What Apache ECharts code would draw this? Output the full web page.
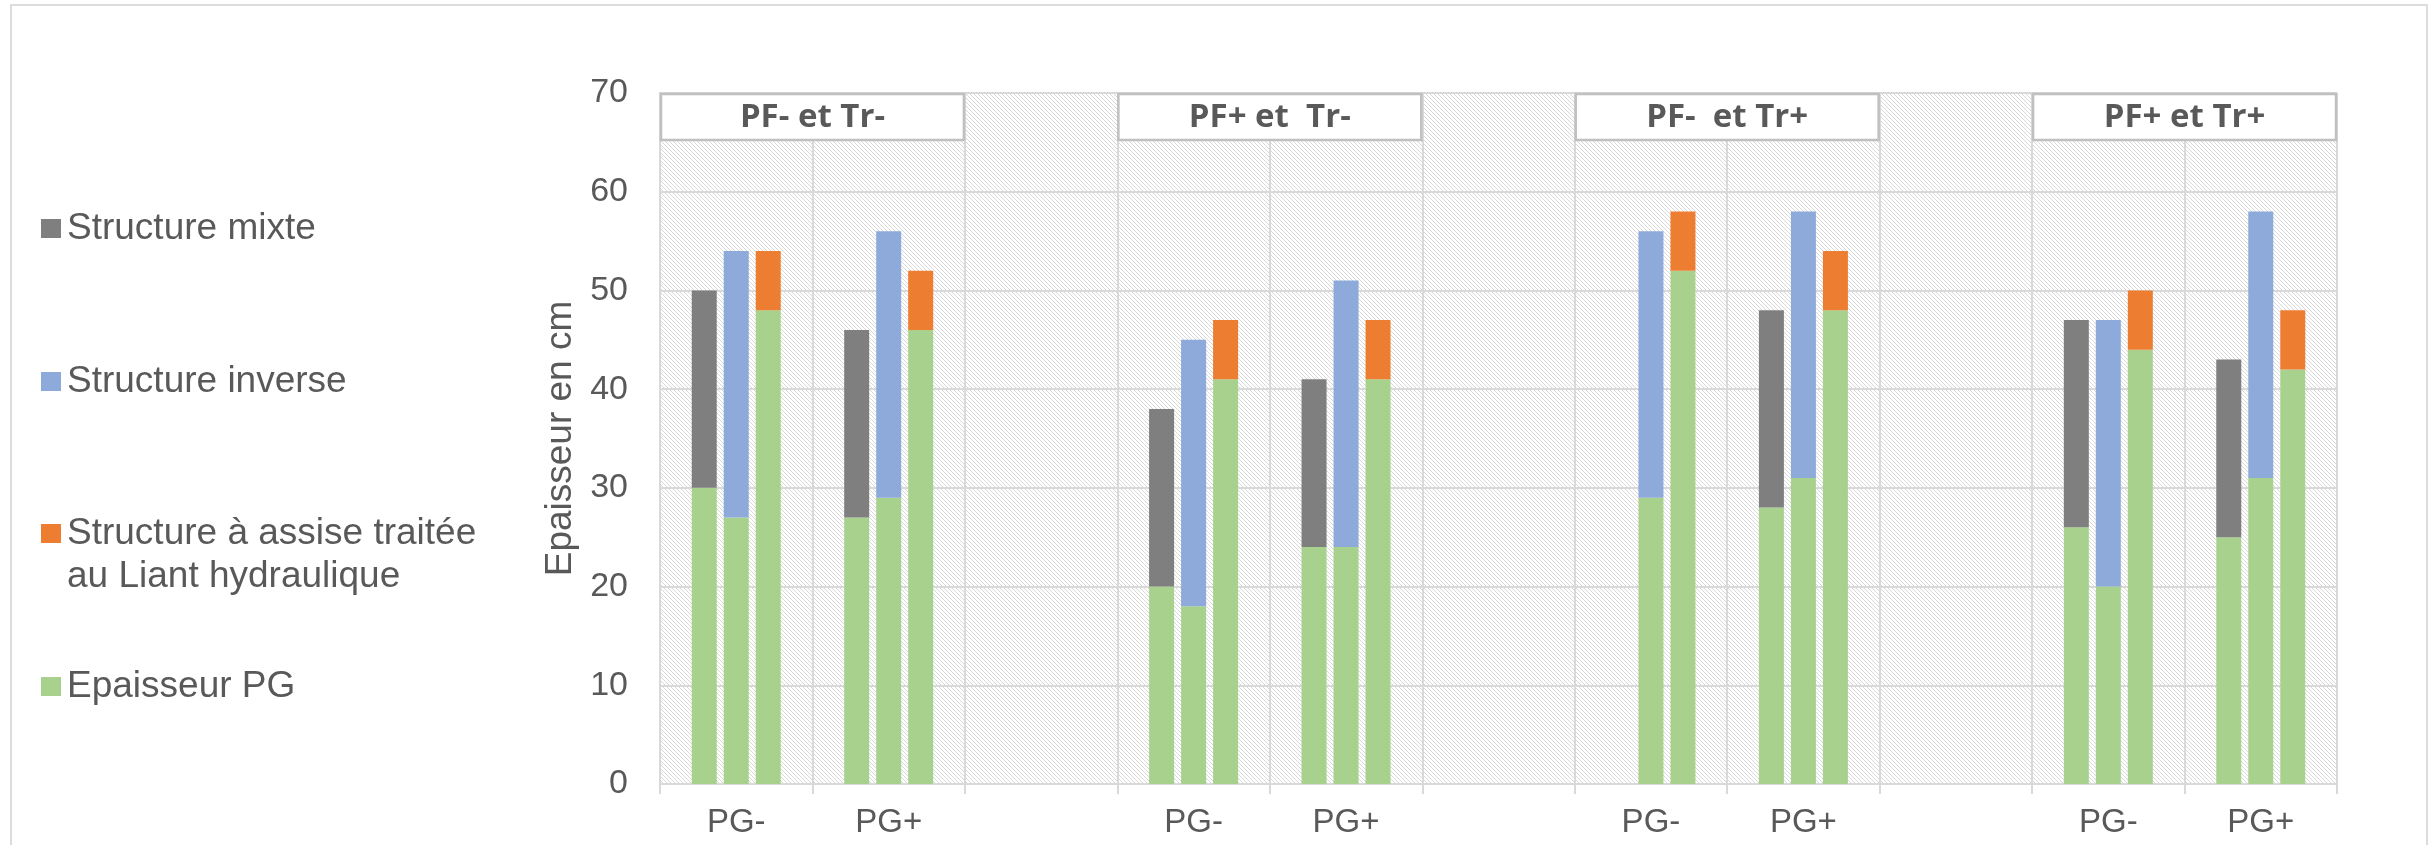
<!DOCTYPE html>
<html>
<head>
<meta charset="utf-8">
<script src="https://cdn.jsdelivr.net/npm/echarts@6/dist/echarts.min.js"></script>
<style>
  html, body { margin: 0; padding: 0; background: #fff; overflow: hidden; }
  #chart { width: 2435px; height: 845px; }
  #frame { position: absolute; left: 10px; top: 4px; width: 2418px; height: 900px;
           border: 2px solid #dcdcdc; box-sizing: border-box; pointer-events: none; }
</style>
</head>
<body>
<div id="chart"></div>
<div id="frame"></div>
<script>
// Categories: PG- / PG+ for each PF/Tr case, with an empty slot between cases
const categories = ['PG-', 'PG+', '', 'PG-', 'PG+', '', 'PG-', 'PG+', '', 'PG-', 'PG+'];

// Case headers and the first category index each one covers (two categories each)
const groupLabels = ['PF- et Tr-', 'PF+ et  Tr-', 'PF-  et Tr+', 'PF+ et Tr+'];
const groupStart = [0, 3, 6, 9];

// Epaisseur PG under each structure (cm)
const pgMixte   = [30, 27, null, 20, 24, null, null, 28, null, 26, 25];
const pgInverse = [27, 29, null, 18, 24, null, 29,   31, null, 20, 31];
const pgLiant   = [48, 46, null, 41, 41, null, 52,   48, null, 44, 42];

// Structure thickness stacked on top of the PG (cm)
const mixte   = [20, 19, null, 18, 17, null, null, 20, null, 21, 18];
const inverse = [27, 27, null, 27, 27, null, 27,   27, null, 27, 27];
const liant   = [6,  6,  null, 6,  6,  null, 6,    6,  null, 6,  6];

const yTicks = { min: 0, max: 70, interval: 10 };

const COLORS = {
  mixte: '#7f7f7f',
  inverse: '#8eaadb',
  liant: '#ed7d31',
  pg: '#a9d18e'
};
const TEXT = '#595959';
const GRID_LINE = '#d9d9d9';
const FONT = '"Liberation Sans", Arial, sans-serif';

// Light downward-diagonal hatch used as plot background
function hatchTile() {
  const c = document.createElement('canvas');
  c.width = 4; c.height = 4;
  const g = c.getContext('2d');
  g.fillStyle = '#ffffff';
  g.fillRect(0, 0, 4, 4);
  g.fillStyle = '#d8d8d8';
  for (let i = 0; i < 4; i++) g.fillRect(i, i, 1, 1);
  return c;
}

const chart = echarts.init(document.getElementById('chart'), null, { renderer: 'canvas' });

function barSeries(name, stack, data, color) {
  return {
    type: 'bar', name: name, stack: stack, data: data,
    barWidth: 25, barGap: '28%',
    itemStyle: { color: color },
    emphasis: { disabled: true }
  };
}

const LEGEND_LINE = 43;
const legendText = { color: TEXT, fontSize: 37, lineHeight: LEGEND_LINE, fontFamily: FONT, padding: [0, 0, 0, 1] };
function legendAt(name, top) {
  return {
    data: [name], left: 41, top: top, padding: 0,
    orient: 'vertical', icon: 'rect', itemWidth: 20, itemHeight: 19,
    selectedMode: false,
    textStyle: Object.assign({}, legendText)
  };
}

const option = {
  animation: false,
  backgroundColor: '#ffffff',
  grid: {
    left: 660, right: 98, top: 93, bottom: 61,
    show: true, borderWidth: 0,
    backgroundColor: { image: hatchTile(), repeat: 'repeat' }
  },
  legend: [
    legendAt('Structure mixte', 207),
    legendAt('Structure inverse', 360),
    // leading blank line keeps the marker level with the first text line
    Object.assign(legendAt('Structure à assise traitée au Liant hydraulique', 469), {
      formatter: () => '\nStructure à assise traitée\nau Liant hydraulique'
    }),
    legendAt('Epaisseur PG', 665)
  ],
  xAxis: {
    type: 'category', data: categories, boundaryGap: true,
    axisLine: { show: true, lineStyle: { color: GRID_LINE, width: 2 } },
    axisTick: { show: true, interval: 0, length: 10, lineStyle: { color: GRID_LINE, width: 2 } },
    axisLabel: { interval: 0, color: TEXT, fontSize: 33, fontFamily: FONT, margin: 22 },
    splitLine: { show: true, interval: 0, lineStyle: { color: GRID_LINE, width: 2 } }
  },
  yAxis: {
    type: 'value', min: yTicks.min, max: yTicks.max, interval: yTicks.interval,
    name: 'Epaisseur en cm', nameLocation: 'middle', nameGap: 78,
    nameTextStyle: { color: TEXT, fontSize: 37, fontFamily: FONT },
    axisLine: { show: true, lineStyle: { color: GRID_LINE, width: 2 } },
    axisTick: { show: false },
    axisLabel: { color: TEXT, fontSize: 34, fontFamily: FONT, margin: 32 },
    splitLine: { show: true, lineStyle: { color: GRID_LINE, width: 2 } }
  },
  series: [
    barSeries('Epaisseur PG', 'mixte', pgMixte, COLORS.pg),
    barSeries('Structure mixte', 'mixte', mixte, COLORS.mixte),
    barSeries('Epaisseur PG', 'inverse', pgInverse, COLORS.pg),
    barSeries('Structure inverse', 'inverse', inverse, COLORS.inverse),
    barSeries('Epaisseur PG', 'liant', pgLiant, COLORS.pg),
    barSeries('Structure à assise traitée au Liant hydraulique', 'liant', liant, COLORS.liant),
    {
      // Case header boxes spanning two categories at the top of the plot
      type: 'custom', name: 'cas', silent: true, z: 5,
      data: groupStart.map(s => [s, yTicks.max]),
      renderItem: function (params, api) {
        const bw = api.size([1, 0])[0];
        const p = api.coord([api.value(0), api.value(1)]);
        const x = p[0] - bw / 2;
        const w = bw * 2;
        const h = 47;
        return {
          type: 'group',
          children: [
            { type: 'rect', shape: { x: x + 1, y: p[1] + 1, width: w - 2, height: h - 1 },
              style: { fill: '#ffffff', stroke: '#c0c0c0', lineWidth: 2.5 } },
            { type: 'text',
              style: { text: groupLabels[params.dataIndex], x: x + w / 2, y: p[1] + h / 2 + 1,
                       align: 'center', verticalAlign: 'middle', fill: TEXT,
                       fontSize: 33, fontWeight: 'bold', fontFamily: '"Open Sans", sans-serif' } }
          ]
        };
      }
    }
  ]
};

chart.setOption(option);
</script>
</body>
</html>
